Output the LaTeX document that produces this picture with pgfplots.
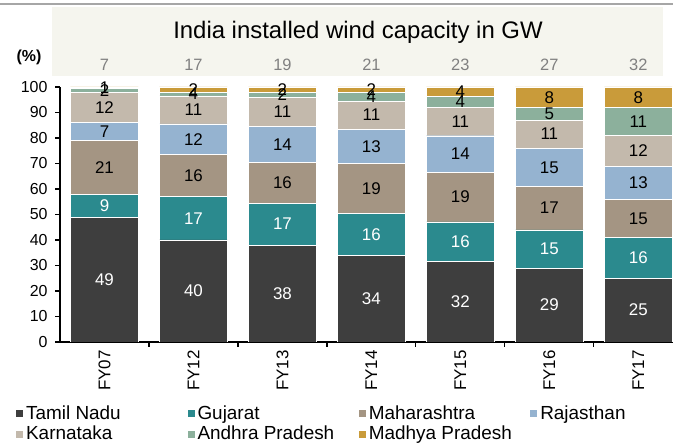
\documentclass[border=0pt]{standalone}
\usepackage{pgfplots}
\usepackage{pgfplotstable}
\usepackage{fontspec}
\setmainfont{Liberation Sans}
\pgfplotsset{compat=1.18}

\definecolor{tn}{RGB}{62,62,62}
\definecolor{gj}{RGB}{43,138,142}
\definecolor{mh}{RGB}{164,149,131}
\definecolor{rj}{RGB}{149,179,208}
\definecolor{ka}{RGB}{195,185,172}
\definecolor{ap}{RGB}{140,176,156}
\definecolor{mp}{RGB}{201,155,58}
\definecolor{beige}{RGB}{245,245,238}
\definecolor{totgray}{RGB}{128,128,128}

% share in %, plotted value and shown label
\pgfplotstableread{
x tn tnl gj gjl mh mhl rj rjl ka kal ap apl mp mpl
0 49 49 9 9 21 21 7 7 12 12 1.5 2 0.5 1
1 40 40 17 17 16.5 16 12 12 11 11 1.5 4 2 2
2 38 38 16.5 17 16 16 14 14 11.5 11 2 2 2 2
3 34 34 16.5 16 19.5 19 13.5 13 11 11 3.3 4 2.2 2
4 31.6 32 15.5 16 19.5 19 14.3 14 11 11 4.3 4 3.8 4
5 29 29 15 15 17 17 15 15 11 11 5 5 8 8
6 25 25 16 16 15 15 13 13 12 12 11 11 8 8
}\shares

% installed capacity, GW
\pgfplotstableread{
x y t
0 108.6 7
1 108.6 17
2 108.6 19
3 108.6 21
4 108.6 23
5 108.6 27
6 108.6 32
}\totals

\pgfplotsset{
  seg/.style n args={2}{fill=#1, draw=white, line width=0.4bp,
    nodes near coords, point meta=explicit symbolic,
    every node near coord/.append style={font=\fontsize{17}{19}\selectfont,
      text=#2, anchor=center},
    legend image code/.code={\fill[##1] (0bp,-4bp) rectangle (8bp,4bp);}},
}

\begin{document}
\begin{tikzpicture}
\path[use as bounding box] (0,0) rectangle (673bp,443bp);
\draw[gray!70, line width=2bp] (0,439bp) -- (673bp,439bp);
\fill[beige] (51.5bp,367bp) rectangle (663bp,436bp);
\node[font=\fontsize{24}{27}\selectfont] at (358bp,411bp) {India installed wind capacity in GW};
\node[font=\fontsize{16}{18}\selectfont\bfseries] at (29bp,386bp) {(\%)};

\begin{axis}[
  at={(60bp,101bp)}, anchor=south west,
  width=613bp, height=255bp, scale only axis,
  ybar stacked, bar width=68bp,
  xmin=-0.5, xmax=6.39, ymin=0, ymax=100,
  axis x line*=bottom, axis y line*=left,
  axis line style={line width=1.2bp},
  ytick={0,10,...,100},
  xtick={0,...,6},
  xticklabels={FY07,FY12,FY13,FY14,FY15,FY16,FY17},
  minor xtick={0.5,1.5,...,5.5},
  tick align=outside,
  major tick length=5bp, minor tick length=5bp,
  tick style={line width=1.2bp, black},
  major x tick style={draw=none},
  /pgf/number format/assume math mode=true,
  tick label style={font=\fontsize{16}{18}\selectfont},
  xticklabel style={font=\fontsize{17}{19}\selectfont},
  yticklabel style={xshift=-4bp},
  xticklabel style={rotate=90, anchor=east},
  legend columns=4,
  legend style={at={(axis description cs:-0.0734,-0.24)}, anchor=north west,
    draw=none, fill=none, inner sep=0pt, font=\fontsize{19}{20.5}\selectfont,
    row sep=0bp, nodes={inner sep=2.5bp}},
  legend cell align=left,
]
\addplot[seg={tn}{white}] table[x=x, y=tn, meta=tnl]{\shares};
\addplot[seg={gj}{white}] table[x=x, y=gj, meta=gjl]{\shares};
\addplot[seg={mh}{black}] table[x=x, y=mh, meta=mhl]{\shares};
\addplot[seg={rj}{black}] table[x=x, y=rj, meta=rjl]{\shares};
\addplot[seg={ka}{black}] table[x=x, y=ka, meta=kal]{\shares};
\addplot[seg={ap}{black}] table[x=x, y=ap, meta=apl]{\shares};
\addplot[seg={mp}{black}] table[x=x, y=mp, meta=mpl]{\shares};
\legend{\makebox[158bp][l]{Tamil Nadu},\makebox[158bp][l]{Gujarat},\makebox[158bp][l]{Maharashtra},\makebox[158bp][l]{Rajasthan},
  \makebox[158bp][l]{Karnataka},\makebox[158bp][l]{Andhra Pradesh},\makebox[158bp][l]{Madhya Pradesh}}
\end{axis}

\begin{axis}[
  at={(60bp,101bp)}, anchor=south west,
  width=613bp, height=255bp, scale only axis,
  xmin=-0.5, xmax=6.39, ymin=0, ymax=100,
  hide axis, clip=false,
]
\addplot[draw=none, nodes near coords, point meta=explicit symbolic,
  nodes near coords style={anchor=center, text=totgray, font=\fontsize{16.5}{18}\selectfont}]
  table[x=x, y=y, meta=t]{\totals};
\end{axis}
\end{tikzpicture}
\end{document}
